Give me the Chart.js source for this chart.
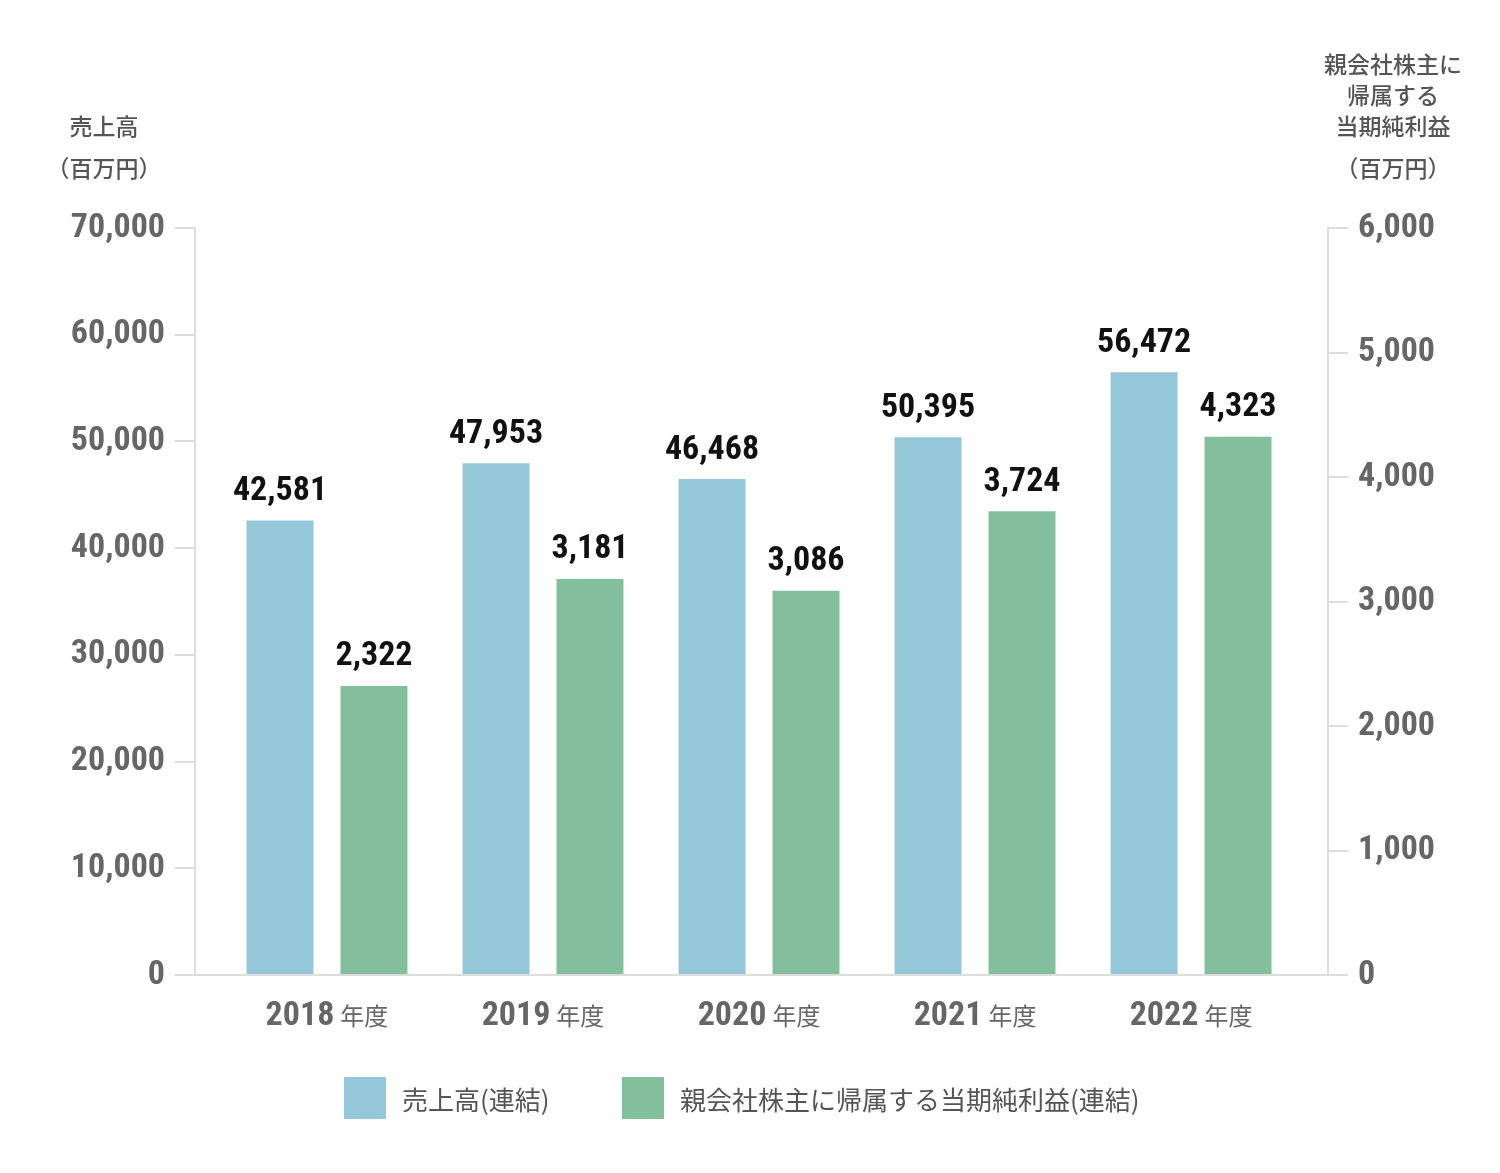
<!DOCTYPE html>
<html><head><meta charset="utf-8">
<script src="https://cdn.jsdelivr.net/npm/chart.js@4"></script>
<style>
body{margin:0;background:#fff;width:1500px;height:1173px;position:relative;overflow:hidden;font-family:"Noto Sans CJK JP","Noto Sans",sans-serif;color:#555}
#wrap{position:absolute;left:0;top:0;width:1500px;height:1173px}
.t{position:absolute;font-size:23px;font-weight:500;text-align:center;line-height:31px;color:#555}
.leg{position:absolute;top:1077px;display:flex;align-items:center;font-size:26px;color:#555}
.leg span{display:inline-block;width:42px;height:42px;margin-right:16px}
</style></head><body>
<div id="wrap"><canvas id="c"></canvas></div>
<div class="t" style="left:45px;top:110px;width:118px">売上高</div>
<div class="t" style="left:40px;top:152px;width:128px">（百万円）</div>
<div class="t" style="left:1308px;top:48px;width:170px">親会社株主に<br>帰属する<br>当期純利益</div>
<div class="t" style="left:1308px;top:152px;width:170px">（百万円）</div>
<div class="leg" style="left:344px"><span style="background:#94c7d7"></span>売上高(連結)</div>
<div class="leg" style="left:622px"><span style="background:#84bf9d"></span>親会社株主に帰属する当期純利益(連結)</div>
<script>
const years = ['2018', '2019', '2020', '2021', '2022'];
const yearSuffix = ['年度', '年度', '年度', '年度', '年度'];
const sales = [42581, 47953, 46468, 50395, 56472];
const profit = [2322, 3181, 3086, 3724, 4323];

const numFont = '"Liberation Sans Narrow","Roboto Condensed","Roboto",sans-serif';

const valueLabels = {
  id: 'valueLabels',
  afterDatasetsDraw(chart) {
    const ctx = chart.ctx;
    ctx.save();
    ctx.fillStyle = '#111';
    ctx.font = `bold 34px ${numFont}`;
    ctx.textAlign = 'center';
    ctx.textBaseline = 'bottom';
    chart.data.datasets.forEach((ds, i) => {
      chart.getDatasetMeta(i).data.forEach((bar, j) => {
        ctx.fillText(ds.data[j].toLocaleString('en-US'), bar.x, bar.y - 12);
      });
    });
    // category labels: bold year + smaller suffix
    const xs = chart.scales.x;
    years.forEach((y, j) => {
      const cx = xs.getPixelForValue(j);
      ctx.font = `bold 34px ${numFont}`;
      const w1 = ctx.measureText(y).width;
      ctx.font = '24px "Noto Sans CJK JP"';
      const w2 = ctx.measureText(yearSuffix[j]).width;
      const x0 = cx - (w1 + 6 + w2) / 2;
      ctx.textAlign = 'left';
      ctx.textBaseline = 'alphabetic';
      ctx.fillStyle = '#666';
      ctx.font = `bold 34px ${numFont}`;
      ctx.fillText(y, x0, xs.top + 50);
      ctx.font = '24px "Noto Sans CJK JP"';
      ctx.fillText(yearSuffix[j], x0 + w1 + 6, xs.top + 50);
    });
    ctx.restore();
  }
};

const tickStyle = { color: '#666', font: { family: numFont, size: 34, weight: 'bold' } };

new Chart(document.getElementById('c'), {
  type: 'bar',
  data: {
    labels: years,
    datasets: [
      { label: '売上高(連結)', data: sales, backgroundColor: '#94c7d7', yAxisID: 'y' },
      { label: '親会社株主に帰属する当期純利益(連結)', data: profit, backgroundColor: '#84bf9d', yAxisID: 'y1' }
    ]
  },
  options: {
    responsive: true,
    maintainAspectRatio: false,
    animation: false,
    layout: { padding: { top: 228, left: 0, right: 0, bottom: 0 } },
    datasets: { bar: { categoryPercentage: 0.87, barPercentage: 0.713 } },
    plugins: { legend: { display: false }, tooltip: { enabled: false } },
    scales: {
      x: {
        grid: { drawOnChartArea: false, drawTicks: false, color: '#ddd' },
        border: { color: '#ddd', width: 2 },
        ticks: { display: false },
        afterFit: (s) => { s.height = 198; s._startValue = -0.611; s._valueRange = 5.245; }
      },
      y: {
        position: 'left', min: 0, max: 70000,
        ticks: { ...tickStyle, stepSize: 10000, padding: 10, callback: v => v.toLocaleString('en-US') },
        grid: { drawOnChartArea: false, tickLength: 20, color: '#ddd', lineWidth: 2 },
        border: { color: '#ddd', width: 2 },
        afterFit: (s) => { s.width = 195; }
      },
      y1: {
        position: 'right', min: 0, max: 6000,
        ticks: { ...tickStyle, stepSize: 1000, padding: 10, callback: v => v.toLocaleString('en-US') },
        grid: { drawOnChartArea: false, tickLength: 20, color: '#ddd', lineWidth: 2 },
        border: { color: '#ddd', width: 2 },
        afterFit: (s) => { s.width = 172; }
      }
    }
  },
  plugins: [valueLabels]
});
</script>
</body></html>
